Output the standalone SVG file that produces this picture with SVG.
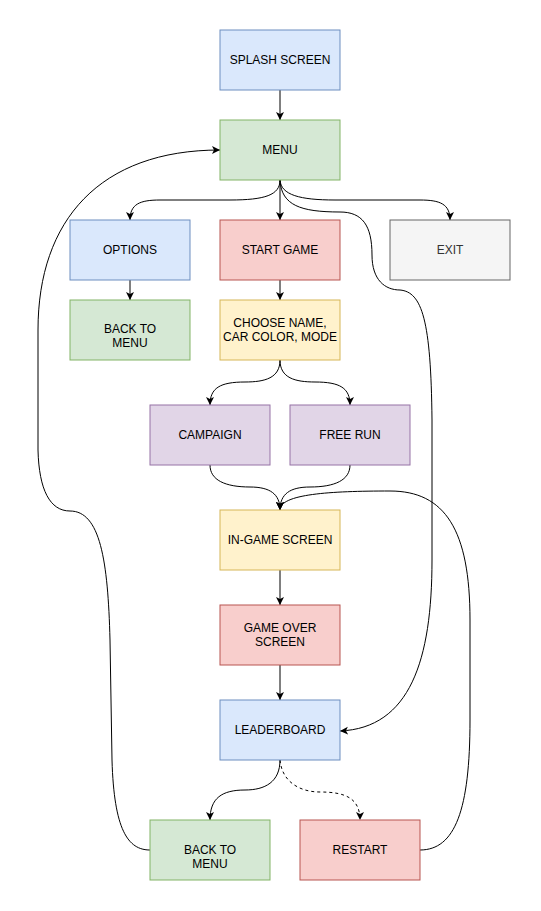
<svg xmlns="http://www.w3.org/2000/svg" width="541" height="911" viewBox="0 0 541 911">
<style>
rect{stroke-width:1}
.blue{fill:#dae8fc;stroke:#6c8ebf}
.green{fill:#d5e8d4;stroke:#82b366}
.red{fill:#f8cecc;stroke:#b85450}
.yellow{fill:#fff2cc;stroke:#d6b656}
.purple{fill:#e1d5e7;stroke:#9673a6}
.gray{fill:#f5f5f5;stroke:#666666}
text{font-family:"Liberation Sans",Arial,sans-serif;font-size:12px;fill:#000;text-anchor:middle}
.gt{fill:#333333}
.e{fill:none;stroke:#000;stroke-width:1;marker-end:url(#a)}
.d{stroke-dasharray:3,3}
</style>
<defs>
<marker id="a" markerWidth="10" markerHeight="10" refX="8" refY="4" orient="auto" markerUnits="userSpaceOnUse">
<path d="M0,0 L8,4 L0,8 L2,4 z" fill="#000"/>
</marker>
</defs>
<rect width="541" height="911" fill="#fff"/>
<g id="connectors">
<path class="e" d="M280,90 L280,120"/>
<path class="e" d="M280,180 L280,220"/>
<path class="e" d="M280,180 C280,195 265,200 230,200 L160,200 C140,200 130,204 130,220"/>
<path class="e" d="M280,180 C281,195 300,200 335,200 L420,200 C440,200 450,204 450,220"/>
<path class="e" d="M280,181 C282,205 300,212 340,212 C362,212 372,225 372,255 C372,280 385,290 400,290 C422,292 431,320 432,420 L432,560 C432,660 410,728 340,731"/>
<path class="e" d="M130,280 L130,300"/>
<path class="e" d="M280,280 L280,300"/>
<path class="e" d="M280,360 C280,378 265,382 245,382 C220,382 210,388 210,405"/>
<path class="e" d="M280,360 C280,378 295,382 315,382 C340,382 350,388 350,405"/>
<path class="e" d="M210,465 C210,480 225,487 250,487 C270,487 280,494 280,510"/>
<path class="e" d="M350,465 C350,480 335,487 310,487 C290,487 280,494 280,510"/>
<path class="e" d="M420,850 C455,850 470,810 470,720 L470,620 C470,530 445,491 390,491 C330,491 280,494 280,510"/>
<path class="e" d="M280,570 L280,605"/>
<path class="e" d="M280,665 L280,700"/>
<path class="e" d="M280,760 C280,782 265,790 245,790 C222,790 210,798 210,820"/>
<path class="e d" d="M280,760 C282,782 300,792 320,792 C345,792 360,798 360,820"/>
<path class="e" d="M150,850 C128,850 114,830 112,760 L110,640 C108,560 100,511 70,511 C50,511 39,490 38,450 L38,330 C38,220 100,150 220,150"/>
</g>
<g id="splash"><rect class="blue" x="220" y="30" width="120" height="60"/><text x="280" y="64">SPLASH SCREEN</text></g>
<g id="menu"><rect class="green" x="220" y="120" width="120" height="60"/><text x="280" y="154">MENU</text></g>
<g id="options"><rect class="blue" x="70" y="220" width="120" height="60"/><text x="130" y="254">OPTIONS</text></g>
<g id="start"><rect class="red" x="220" y="220" width="120" height="60"/><text x="280" y="254">START GAME</text></g>
<g id="exit"><rect class="gray" x="390" y="220" width="120" height="60"/><text class="gt" x="450" y="254">EXIT</text></g>
<g id="back1"><rect class="green" x="70" y="300" width="120" height="60"/><text x="130" y="333">BACK TO</text><text x="130" y="347">MENU</text></g>
<g id="choose"><rect class="yellow" x="220" y="300" width="120" height="60"/><text x="280" y="327">CHOOSE NAME,</text><text x="280" y="341">CAR COLOR, MODE</text></g>
<g id="campaign"><rect class="purple" x="150" y="405" width="120" height="60"/><text x="210" y="439">CAMPAIGN</text></g>
<g id="freerun"><rect class="purple" x="290" y="405" width="120" height="60"/><text x="350" y="439">FREE RUN</text></g>
<g id="ingame"><rect class="yellow" x="220" y="510" width="120" height="60"/><text x="280" y="544">IN-GAME SCREEN</text></g>
<g id="gameover"><rect class="red" x="220" y="605" width="120" height="60"/><text x="280" y="632">GAME OVER</text><text x="280" y="646">SCREEN</text></g>
<g id="leaderboard"><rect class="blue" x="220" y="700" width="120" height="60"/><text x="280" y="734">LEADERBOARD</text></g>
<g id="back2"><rect class="green" x="150" y="820" width="120" height="60"/><text x="210" y="854">BACK TO</text><text x="210" y="868">MENU</text></g>
<g id="restart"><rect class="red" x="300" y="820" width="120" height="60"/><text x="360" y="854">RESTART</text></g>
</svg>
